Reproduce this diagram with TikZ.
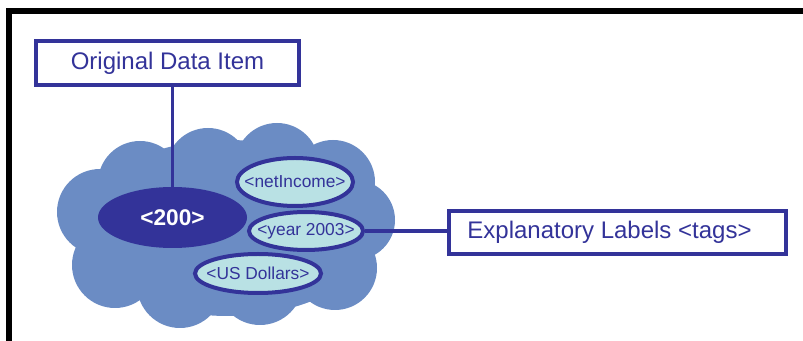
\documentclass[tikz,border=0pt]{standalone}
\usepackage{fontspec}
\setmainfont{Liberation Sans}
\usetikzlibrary{shapes.geometric}
\definecolor{dblue}{HTML}{333399}
\definecolor{cloudc}{HTML}{6B8CC4}
\definecolor{lcyan}{HTML}{B9E1E4}
\tikzset{
  labelbox/.style={draw=dblue, line width=3pt, fill=white, text=dblue, inner sep=0pt,
    font=\fontsize{18pt}{20pt}\selectfont},
  tagell/.style={ellipse, draw=dblue, line width=3pt, fill=lcyan, text=dblue, inner sep=0pt,
    font=\fontsize{13pt}{15pt}\selectfont},
  conn/.style={draw=dblue, line width=2.5pt},
  frame/.style={draw=black, line width=4.5pt}
}
\begin{document}
\begin{tikzpicture}[x=0.75pt,y=-0.75pt]
\useasboundingbox (0,0) rectangle (803,341);
% frame
\draw[frame] (9,341) -- (9,11) -- (803,11);
% cloud
\fill[cloudc]
  (100,212) circle[radius=43]
  (140,183) circle[radius=42]
  (208,170) circle[radius=42]
  (277,165) circle[radius=42]
  (333,182) circle[radius=42]
  (355,220) circle[radius=40]
  (335,268) circle[radius=42]
  (260,282) circle[radius=43]
  (180,285) circle[radius=43]
  (115,265) circle[radius=43]
  (228,228) ellipse[x radius=150, y radius=88];
% nodes
\node[ellipse, fill=dblue, text=white, inner sep=0pt, minimum width=111.75pt, minimum height=45.75pt,
  font=\bfseries\fontsize{17pt}{19pt}\selectfont] (v200) at (172.5,217.5) {<200>};
\node[tagell, minimum width=87pt, minimum height=36pt] (net) at (295,182) {\makebox[0pt]{<netIncome>}};
\node[tagell, minimum width=85.5pt, minimum height=28.5pt] (year) at (306,231) {\makebox[0pt]{<year 2003>}};
\node[tagell, minimum width=94.5pt, minimum height=29.25pt] (usd) at (258,273.5) {\makebox[0pt]{<US Dollars>}};
\node[labelbox, minimum width=197.25pt, minimum height=33pt] (orig) at (167.5,63) {Original Data Item};
\node[labelbox, minimum width=252.75pt, minimum height=32.25pt] (expl) at (617.5,232.5) {Explanatory Labels <tags>\hspace*{12pt}};
% connectors
\draw[conn] (v200.north) -- (v200.north |- orig.south);
\draw[conn] (year.east) -- (year.east -| expl.west);
\end{tikzpicture}
\end{document}
